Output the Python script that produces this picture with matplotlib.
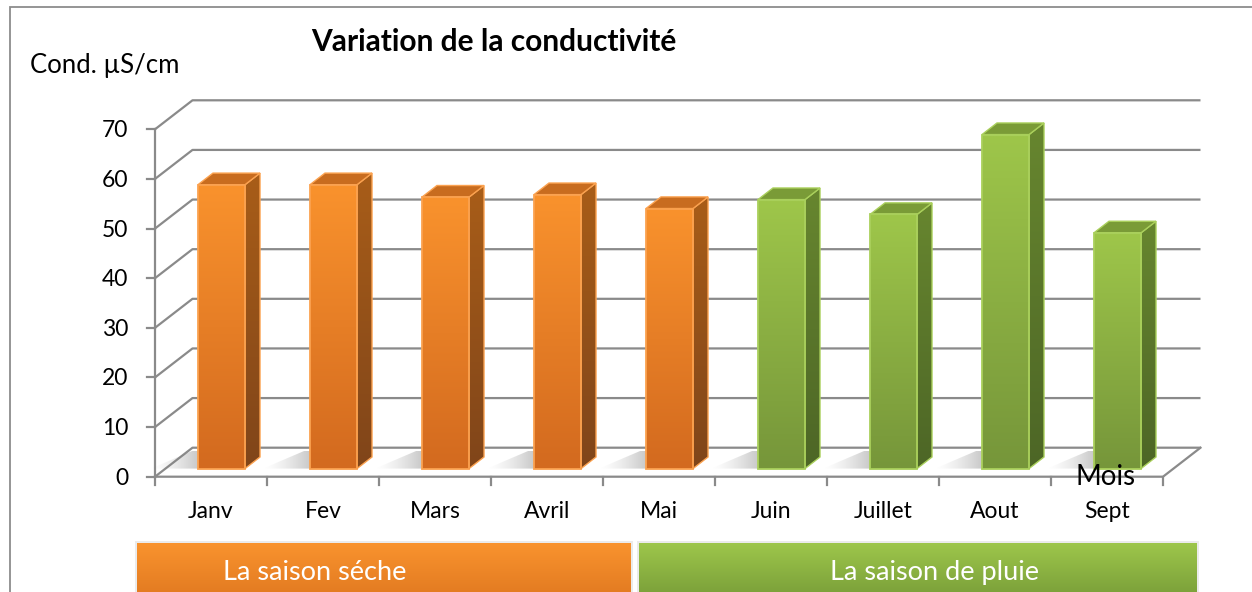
import numpy as np
import matplotlib
matplotlib.use("Agg")
import matplotlib.pyplot as plt
from matplotlib.patches import Polygon, Rectangle
from matplotlib.colors import to_rgb

# ---------------- data ----------------
months = ["Janv", "Fev", "Mars", "Avril", "Mai", "Juin", "Juillet", "Aout", "Sept"]
conductivity = [57.2, 57.2, 54.7, 55.2, 52.4, 54.2, 51.2, 67.3, 47.5]
season_of_month = ["dry", "dry", "dry", "dry", "dry", "wet", "wet", "wet", "wet"]
y_ticks = [0, 10, 20, 30, 40, 50, 60, 70]
season_names = ["La saison séche", "La saison de pluie"]
season_keys = ["dry", "wet"]
title = "Variation de la conductivité"
ylabel = "Cond. µS/cm"
xlabel = "Mois"

# ---------------- style ----------------
FONT = "Lato"
GRID = "#8a8a8a"
STYLE = {
    "dry": dict(front_top="#F9922D", front_bot="#D36A1F", side_top="#A85D18", side_bot="#80451A",
                top="#C86C1F", edge="#FBA250", box_top="#F9932E", box_bot="#E27A21"),
    "wet": dict(front_top="#9EC64A", front_bot="#76963A", side_top="#67862F", side_bot="#4D6626",
                top="#7A9B37", edge="#AAD05C", box_top="#9DC64B", box_bot="#7A9F39"),
}

W, H = 1252, 592
fig = plt.figure(figsize=(W / 100, H / 100), dpi=100)
ax = fig.add_axes([0, 0, 1, 1])

# pixel <-> data mapping (front plane: 0..9 categories, 0..70 values)
X0_PX, CAT_PX = 155.0, 112.0
Y0_PX, UNIT_PX = 476.7, 347.4 / 70.0
def P(px, py):
    return (px - X0_PX) / CAT_PX, (Y0_PX - py) / UNIT_PX

xmin, ymax = P(0, 0)
xmax, ymin = P(W, H)
ax.set_xlim(xmin, xmax)
ax.set_ylim(ymin, ymax)
ax.axis("off")

n = len(months)
DX = 37.5 / CAT_PX          # depth offset (x, categories)
DY = 29.0 / UNIT_PX         # depth offset (y, value units)
BAR_W = 0.42
F0, F1 = 0.28, 0.68         # bar depth range (fraction of floor depth)

def rgb(h):
    return np.array(to_rgb(h))

def vgrad(x0, x1, y0, y1, ctop, cbot, clip=None, z=3):
    t = np.linspace(0, 1, 64)[:, None]
    cols = rgb(cbot) * (1 - t) + rgb(ctop) * t
    im = ax.imshow(cols[:, None, :], extent=[x0, x1, y0, y1], origin="lower",
                   aspect="auto", interpolation="bilinear", zorder=z)
    if clip is not None:
        im.set_clip_path(clip)
    return im

# ---------------- outer border ----------------
bx0, by0 = P(10, 7.3)
ax.plot([bx0, bx0, xmax + 1], [ymin - 5, by0, by0], color="#8c8c8c", lw=1.3, zorder=1,
        solid_joinstyle="miter")

# ---------------- walls / grid ----------------
glw = 1.6
for v in y_ticks:
    ax.plot([0, DX, n + DX], [v, v + DY, v + DY], color=GRID, lw=glw, zorder=1,
            solid_capstyle="butt")
    ax.plot([-8 / CAT_PX, 0], [v, v], color=GRID, lw=glw, zorder=1)
ax.plot([0, 0], [0, y_ticks[-1]], color=GRID, lw=glw, zorder=1)
ax.plot([0, n, n + DX], [0, 0, DY], color=GRID, lw=glw, zorder=1)
for i in range(n + 1):
    ax.plot([i, i], [0, -8 / UNIT_PX], color=GRID, lw=glw, zorder=1)

# tick labels
for v in y_ticks:
    ax.text(P(128, 0)[0], v - 8.0 / UNIT_PX, f"{v}", ha="right", va="baseline",
            fontsize=16.5, family=FONT, color="black", zorder=6)
for i, m in enumerate(months):
    ax.text(i + 0.5, P(0, 518)[1], m, ha="center", va="baseline",
            fontsize=16.5, family=FONT, color="black", zorder=6)

# ---------------- bars ----------------
for i, (v, s) in enumerate(zip(conductivity, season_of_month)):
    st = STYLE[s]
    cx = i + 0.5 + F0 * DX
    xl, xr = cx - BAR_W / 2, cx + BAR_W / 2
    yb = F0 * DY
    yt = v + F0 * DY
    ddx, ddy = (F1 - F0) * DX, (F1 - F0) * DY

    # floor shadow to the left of the bar
    sd = 0.62
    sw = 0.42
    sh = Polygon([(xl - sw, yb), (xl, yb), (xl + sd * DX, yb + sd * DY),
                  (xl - sw * 0.6 + sd * DX, yb + sd * DY)], closed=True,
                 transform=ax.transData, facecolor="none", edgecolor="none")
    ax.add_patch(sh)
    a = np.linspace(0, 1, 64) ** 1.4 * 0.75
    shimg = np.zeros((1, 64, 4))
    shimg[..., :3] = 0.5
    shimg[0, :, 3] = a
    im = ax.imshow(shimg, extent=[xl - sw, xl + sd * DX, yb, yb + sd * DY],
                   origin="lower", aspect="auto", interpolation="bilinear", zorder=2)
    im.set_clip_path(sh)

    # side face
    side = Polygon([(xr, yb), (xr, yt), (xr + ddx, yt + ddy), (xr + ddx, yb + ddy)],
                   closed=True, facecolor="none", edgecolor="none", transform=ax.transData)
    ax.add_patch(side)
    vgrad(xr, xr + ddx, yb, yt + ddy, st["side_top"], st["side_bot"], clip=side, z=3)
    ax.add_patch(Polygon([(xr, yb), (xr, yt), (xr + ddx, yt + ddy), (xr + ddx, yb + ddy)],
                         closed=True, facecolor="none", edgecolor=st["edge"], lw=1.0, zorder=3.5))
    # top face
    ax.add_patch(Polygon([(xl, yt), (xr, yt), (xr + ddx, yt + ddy), (xl + ddx, yt + ddy)],
                         closed=True, facecolor=st["top"], edgecolor=st["edge"], lw=1.0, zorder=3.6))
    # front face
    vgrad(xl, xr, yb, yt, st["front_top"], st["front_bot"], z=4)
    ax.add_patch(Rectangle((xl, yb), xr - xl, yt - yb, facecolor="none",
                           edgecolor=st["edge"], lw=1.3, zorder=4.5))

# ---------------- season boxes ----------------
first = {k: season_of_month.index(k) for k in season_keys}
last = {k: len(season_of_month) - 1 - season_of_month[::-1].index(k) for k in season_keys}
box_x = {"dry": (first["dry"] - 0.16, last["dry"] + 0.25),
         "wet": (first["wet"] - 0.68, last["wet"] + 1.30)}
text_x = {"dry": P(315, 0)[0], "wet": P(934, 0)[0]}
_, box_top = P(0, 543)
for name, k in zip(season_names, season_keys):
    st = STYLE[k]
    x0, x1 = box_x[k]
    # soft shadow
    ax.add_patch(Rectangle((x0 - 0.02, ymin - 1), x1 - x0 + 0.04, box_top - ymin + 1.4,
                           facecolor="#000000", alpha=0.08, edgecolor="none", zorder=4.8))
    vgrad(x0, x1, ymin - 1, box_top, st["box_top"], st["box_bot"], z=5)
    ax.text(text_x[k], P(0, 580)[1], name, ha="center", va="baseline", fontsize=19.5,
            family=FONT, color="white", zorder=6)

# ---------------- titles ----------------
tx, ty = P(494, 51)
ax.text(tx, ty, title, ha="center", va="baseline", fontsize=21.5, fontweight="bold",
        family=FONT, color="black", zorder=6)
lx, ly = P(30, 72.7)
ax.text(lx, ly, ylabel, ha="left", va="baseline", fontsize=18.5, family=FONT, color="black", zorder=6)
mx, my = P(1106, 485)
ax.text(mx, my, xlabel, ha="center", va="baseline", fontsize=20, family=FONT, color="black", zorder=6)

ax.set_xlim(xmin, xmax)
ax.set_ylim(ymin, ymax)
fig.savefig("out.png", dpi=100)
